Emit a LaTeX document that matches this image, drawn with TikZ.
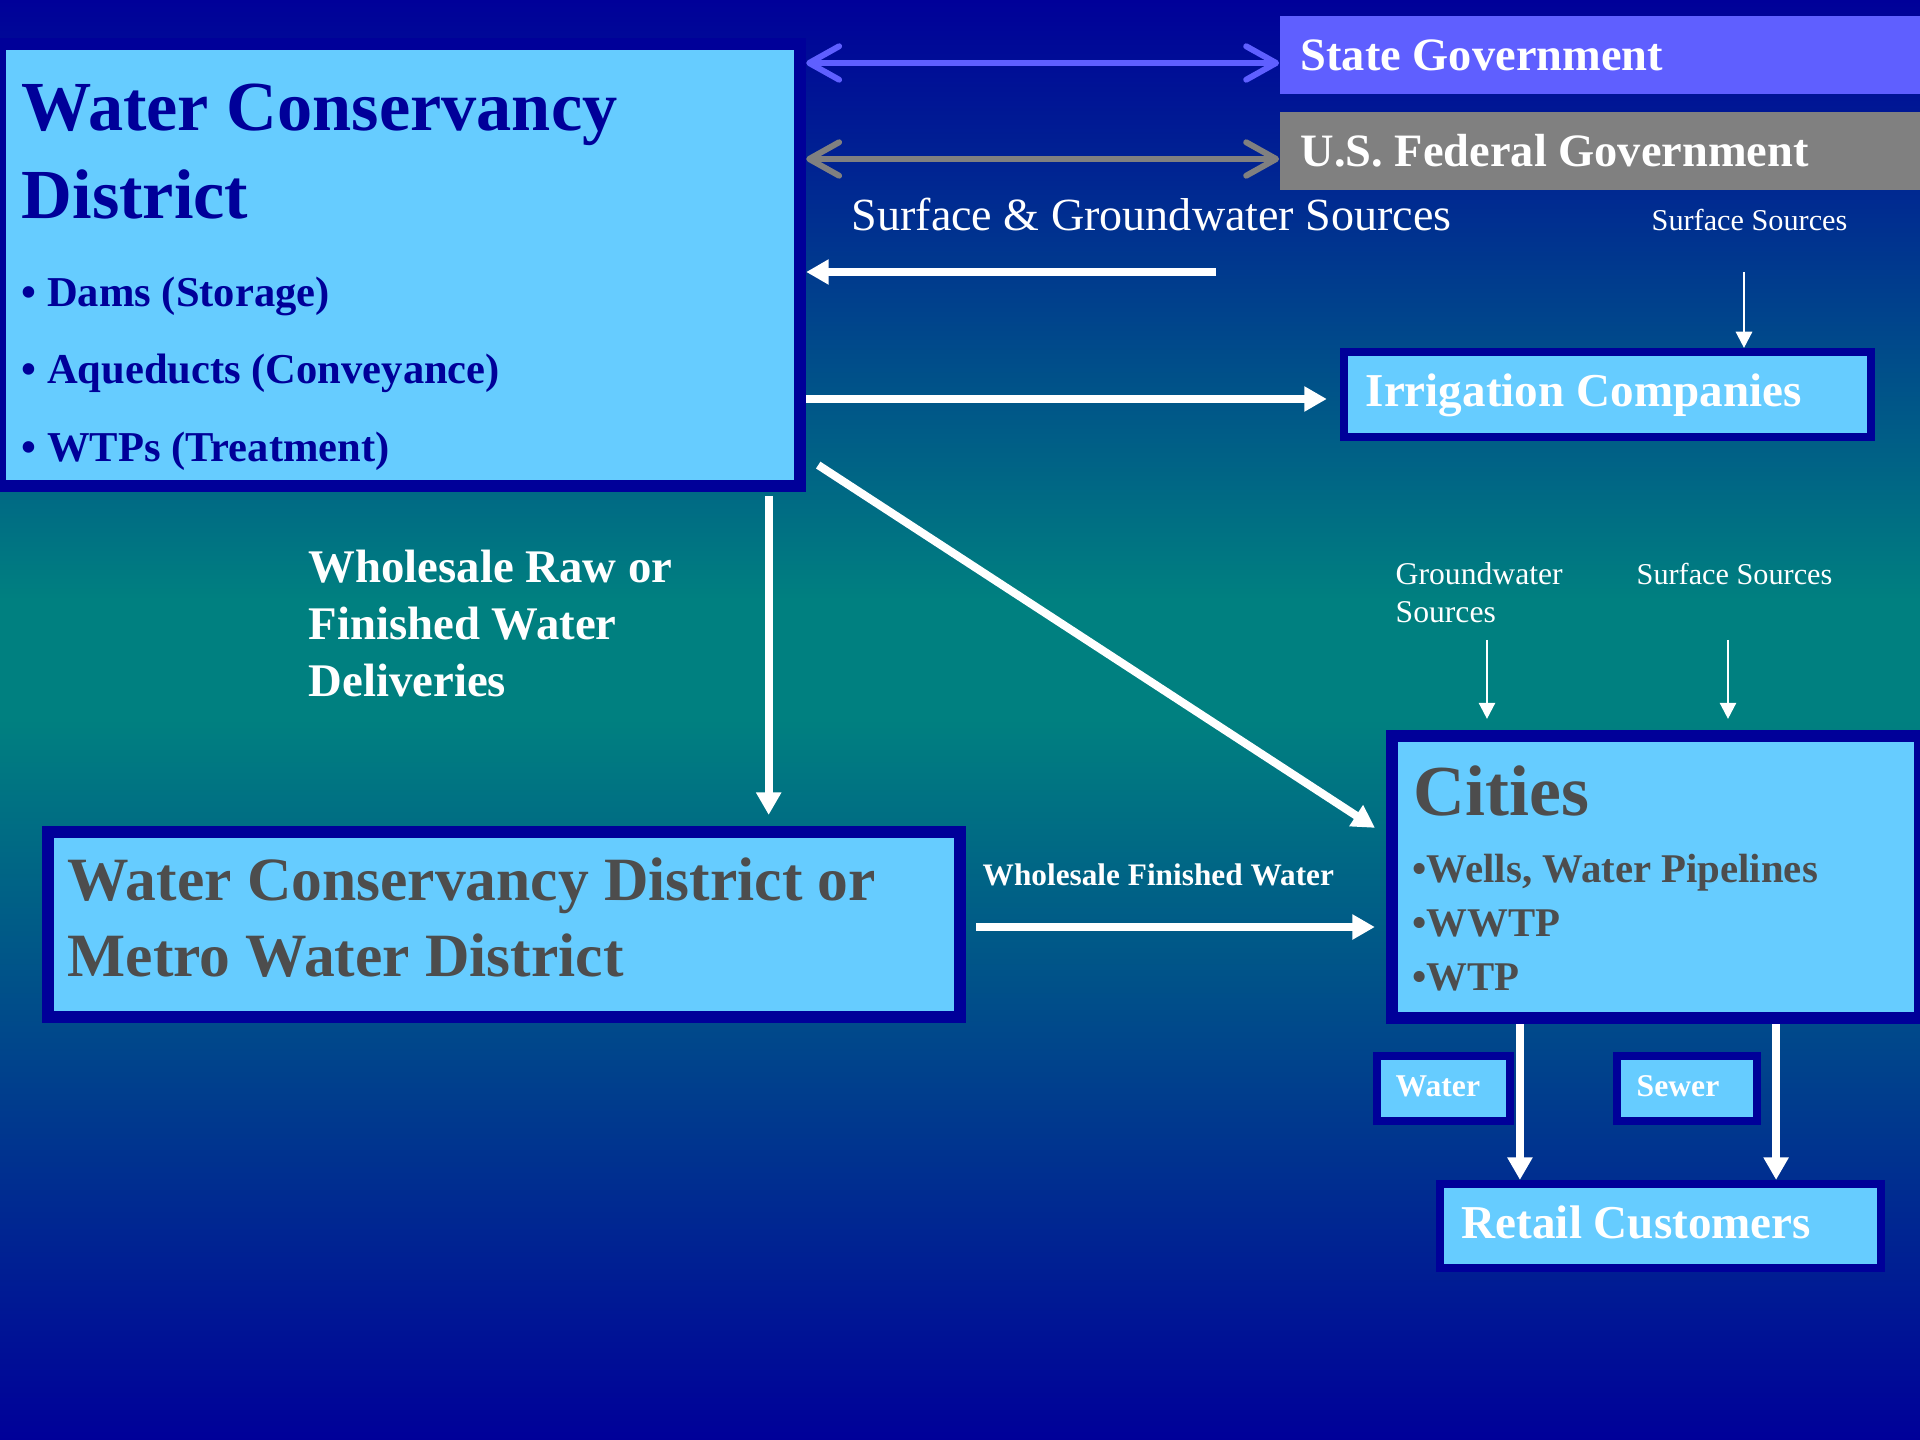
\documentclass[tikz,border=0pt]{standalone}
\usepackage{fontspec}
\setmainfont{Liberation Serif}
\usetikzlibrary{arrows.meta}
\definecolor{deepblue}{RGB}{0,0,153}
\definecolor{seateal}{RGB}{0,128,128}
\definecolor{paleblue}{RGB}{102,204,255}
\definecolor{stateblue}{RGB}{95,95,255}
\definecolor{fedgray}{RGB}{128,128,128}
\definecolor{inkgray}{RGB}{77,77,77}
\begin{document}
\begin{tikzpicture}[x=0.01cm,y=-0.01cm]
            %
            % `panel' is used for the light blue boxes with a wide rim.
            % `tag' is used for the light blue boxes with a narrow rim.
            % `bar' is used for the two government bars.
            % `flow' is used for the thick white arrows.
            % `feed' is used for the thin arrows from the sources.
            % `link' is used for the two-way government arrows.
            \tikzstyle{panel} = [draw=deepblue,fill=paleblue,line width=3.4pt,inner sep=0pt]
            \tikzstyle{tag} = [draw=deepblue,fill=paleblue,line width=2.3pt,inner sep=0pt]
            \tikzstyle{bar} = [inner sep=0pt,minimum width=6.4cm,minimum height=0.78cm]
            \tikzstyle{flow} = [white,line width=2.3pt,-{Triangle[length=6.4pt,width=6.8pt]}]
            \tikzstyle{feed} = [white,line width=0.7pt,-{Triangle[length=4.6pt,width=4.6pt]}]
            \tikzstyle{link} = [line width=1.7pt,{Straight Barb[length=8.5pt,width=9.5pt,round]}-{Straight Barb[length=8.5pt,width=9.5pt,round]}]
            \tikzstyle{txt} = [inner sep=0pt,anchor=base west]
            %
            % Background
            \useasboundingbox (0,0) rectangle (1920,1440);
            \shade[top color=deepblue,bottom color=seateal] (0,0) rectangle (1920,600);
            \fill[seateal] (0,599) rectangle (1920,720);
            \shade[top color=seateal,bottom color=deepblue] (0,719) rectangle (1920,1440);
            %
            % Boxes
            \node[panel,minimum width=8cm,minimum height=4.42cm] (wcd) at (400,265) {};
            \node[bar,fill=stateblue] (state) at (1600,55) {};
            \node[bar,fill=fedgray] (fed) at (1600,151) {};
            \node[tag,minimum width=5.27cm,minimum height=0.85cm] (irr) at (1607.5,394.5) {};
            \node[panel,minimum width=9.12cm,minimum height=1.85cm] (metro) at (504,924.5) {};
            \node[panel,minimum width=5.28cm,minimum height=2.82cm] (cities) at (1656,877) {};
            \node[tag,minimum width=1.33cm,minimum height=0.65cm] (water) at (1443.5,1088.5) {};
            \node[tag,minimum width=1.40cm,minimum height=0.65cm] (sewer) at (1687,1088.5) {};
            \node[tag,minimum width=4.41cm,minimum height=0.84cm] (retail) at (1660.5,1226) {};
            %
            % Texts
            \node[txt,deepblue,font=\bfseries\fontsize{20}{24}\selectfont] (wcdname) at (21,131) {Water Conservancy};
            \node[txt,deepblue,font=\bfseries\fontsize{20}{24}\selectfont] (wcdname2) at (21,219) {District};
            \node[txt,deepblue,font=\bfseries\fontsize{12.1}{14}\selectfont] (dams) at (21,307) {• Dams (Storage)};
            \node[txt,deepblue,font=\bfseries\fontsize{12.1}{14}\selectfont] (aque) at (21,384) {• Aqueducts (Conveyance)};
            \node[txt,deepblue,font=\bfseries\fontsize{12.1}{14}\selectfont] (wtps) at (21,462) {• WTPs (Treatment)};
            \node[txt,white,font=\bfseries\fontsize{13.2}{16}\selectfont] (statename) at (1300,71) {State Government};
            \node[txt,white,font=\bfseries\fontsize{13.2}{16}\selectfont] (fedname) at (1300,167) {U.S. Federal Government};
            \node[txt,white,font=\fontsize{13.1}{16}\selectfont] (sgwlabel) at (851,231) {Surface \& Groundwater Sources};
            \node[txt,white,font=\fontsize{8.6}{10}\selectfont] (surf1) at (1651,231) {Surface Sources};
            \node[txt,white,font=\bfseries\fontsize{13.4}{16}\selectfont] (irrname) at (1365,407) {Irrigation Companies};
            \node[txt,white,font=\bfseries\fontsize{13.3}{16}\selectfont] (whole1) at (308,583) {Wholesale Raw or};
            \node[txt,white,font=\bfseries\fontsize{13.3}{16}\selectfont] (whole2) at (308,640) {Finished Water};
            \node[txt,white,font=\bfseries\fontsize{13.3}{16}\selectfont] (whole3) at (308,697) {Deliveries};
            \node[txt,white,font=\fontsize{9}{11}\selectfont] (ground1) at (1395,585) {Groundwater};
            \node[txt,white,font=\fontsize{9}{11}\selectfont] (ground2) at (1395,623) {Sources};
            \node[txt,white,font=\fontsize{8.6}{11}\selectfont] (surf2) at (1636,585) {Surface Sources};
            \node[txt,inkgray,font=\bfseries\fontsize{17.5}{21}\selectfont] (metroname) at (67,901) {Water Conservancy District or};
            \node[txt,inkgray,font=\bfseries\fontsize{17.5}{21}\selectfont] (metroname2) at (67,977) {Metro Water District};
            \node[txt,white,font=\bfseries\fontsize{8.9}{11}\selectfont] (wfwlabel) at (982,886) {Wholesale Finished Water};
            \node[txt,inkgray,font=\bfseries\fontsize{20.4}{24}\selectfont] (citname) at (1413,816) {Cities};
            \node[txt,inkgray,font=\bfseries\fontsize{11.6}{14}\selectfont] (wells) at (1412,883) {•Wells, Water Pipelines};
            \node[txt,inkgray,font=\bfseries\fontsize{11.6}{14}\selectfont] (wwtp) at (1412,937) {•WWTP};
            \node[txt,inkgray,font=\bfseries\fontsize{11.6}{14}\selectfont] (wtp) at (1412,991) {•WTP};
            \node[txt,white,font=\bfseries\fontsize{9}{11}\selectfont] (watername) at (1395,1097) {Water};
            \node[txt,white,font=\bfseries\fontsize{9}{11}\selectfont] (sewername) at (1636,1097) {Sewer};
            \node[txt,white,font=\bfseries\fontsize{13.4}{16}\selectfont] (retailname) at (1461,1239) {Retail Customers};
            %
            % Government links
            \coordinate (sg) at ([yshift=-0.08cm]state.west);
            \coordinate (fg) at ([yshift=-0.08cm]fed.west);
            \draw[link,stateblue] (wcd.east |- sg) -- (sg);
            \draw[link,fedgray] (wcd.east |- fg) -- (fg);
            %
            % Water flows
            \coordinate (sgw) at (1216,272);
            \draw[flow] (sgw) -- (wcd.east |- sgw);
            \coordinate (irrin) at ([yshift=-0.045cm]irr.west);
            \draw[flow,shorten >=0.13cm] (wcd.east |- irrin) -- (irrin);
            \draw[flow,shorten >=0.13cm] ([shift={(0.12cm,0.27cm)}]wcd.south east) -- ([yshift=0.42cm]cities.west);
            \coordinate (dtop) at ([xshift=-0.375cm,yshift=-0.04cm]wcd.south east);
            \draw[flow,shorten >=0.11cm] (dtop) -- (dtop |- metro.north);
            \coordinate (wfw) at ([yshift=-0.5cm]cities.west);
            \draw[flow,shorten <=0.1cm,shorten >=0.11cm] (metro.east |- wfw) -- (wfw);
            %
            % Sources
            \coordinate (srcirr) at (1744,272);
            \draw[feed] (srcirr) -- (srcirr |- irr.north);
            \coordinate (srcgw) at (1487,640);
            \coordinate (srcsf) at (1728,640);
            \draw[feed,shorten >=0.11cm] (srcgw) -- (srcgw |- cities.north);
            \draw[feed,shorten >=0.11cm] (srcsf) -- (srcsf |- cities.north);
            %
            % To customers
            \coordinate (wout) at ([xshift=1.34cm]cities.south west);
            \coordinate (sout) at ([xshift=3.90cm]cities.south west);
            \draw[flow] (wout) -- (wout |- retail.north);
            \draw[flow] (sout) -- (sout |- retail.north);
\end{tikzpicture}
\end{document}
